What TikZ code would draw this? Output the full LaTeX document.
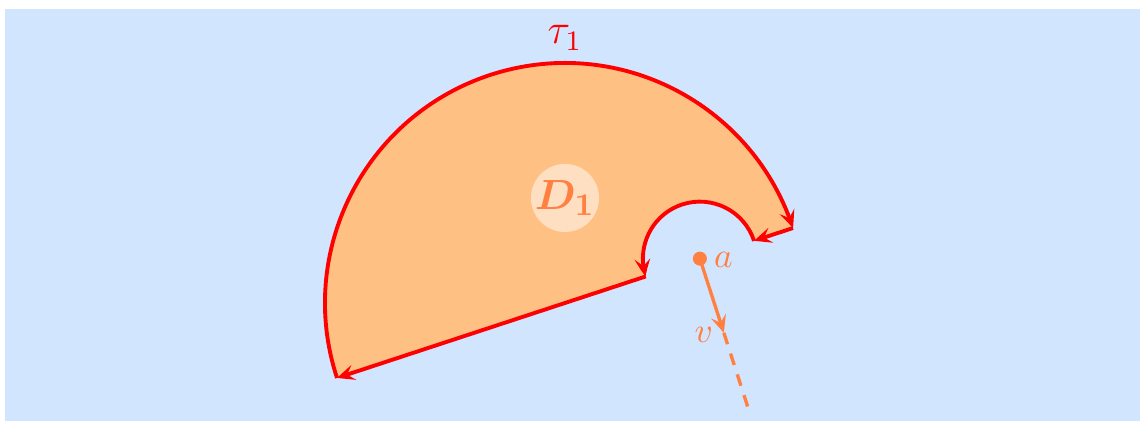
\documentclass[tikz,border=0pt]{standalone}
\usepackage{bm}
\usetikzlibrary{arrows.meta,bending,calc}
\definecolor{bgblue}{RGB}{210,229,255}
\definecolor{regionfill}{RGB}{255,192,132}
\definecolor{vcol}{RGB}{255,128,64}
\begin{document}
\begin{tikzpicture}[x=0.01cm,y=0.01cm,
  tipstyle/.tip={Stealth[length=5pt,width=4.4pt,inset=2pt]},
  bnd/.style={red,line width=1.1pt,-{tipstyle[bend]}},
  vec/.style={vcol,line width=0.95pt},
  lbl/.style={inner sep=1pt},
  halo/.style={circle,fill=white,fill opacity=0.5,minimum size=0.68cm,inner sep=0pt}]
\useasboundingbox (0,0) rectangle (1141,422);
\fill[bgblue] (5,1) rectangle (1140,413);
% geometry
\coordinate (O) at (565,119);
\coordinate (A) at ($(O)+(18.2:142)$);
\path (O) ++(198.2:240) coordinate (P1);
\path (O) ++(18.2:240) coordinate (P2);
\path (A) ++(18.2:57) coordinate (P3);
\path (A) ++(198.2:57) coordinate (P4);
% region
\fill[regionfill] (P1) arc[start angle=198.2,end angle=18.2,radius=240]
  -- (P3) arc[start angle=18.2,end angle=198.2,radius=57] -- cycle;
% boundary
\draw[bnd] (P1) arc[start angle=198.2,end angle=18.2,radius=240];
\draw[bnd] (P2) -- (P3);
\draw[bnd] (P3) arc[start angle=18.2,end angle=198.2,radius=57];
\draw[bnd] (P4) -- (P1);
% labels
\node[lbl,text=red,font=\large] (tau) at (565,384) {$\tau_1$};
\node[halo] (dhalo) at (565,224) {};
\node[lbl,text=vcol] (dlab) at (565,224) {\fontsize{13}{15}\selectfont$\bm{D_1}$};
% point a and vector v
\node[circle,fill=vcol,inner sep=0pt,minimum size=0.14cm] (a) at (A) {};
\node[lbl,text=vcol,anchor=west] (alab) at ($(A)+(10,-1)$) {$a$};
\coordinate (vtip) at ($(A)+(-72.1:78)$);
\coordinate (vend) at ($(A)+(-72.1:162)$);
\draw[vec,-{tipstyle}] (a.center) -- (vtip);
\draw[vec,dashed,dash pattern=on 3.4pt off 2.8pt] (vtip) -- (vend);
\node[lbl,text=vcol] (vlab) at ($(vtip)+(-20,-2)$) {$v$};
\end{tikzpicture}
\end{document}
